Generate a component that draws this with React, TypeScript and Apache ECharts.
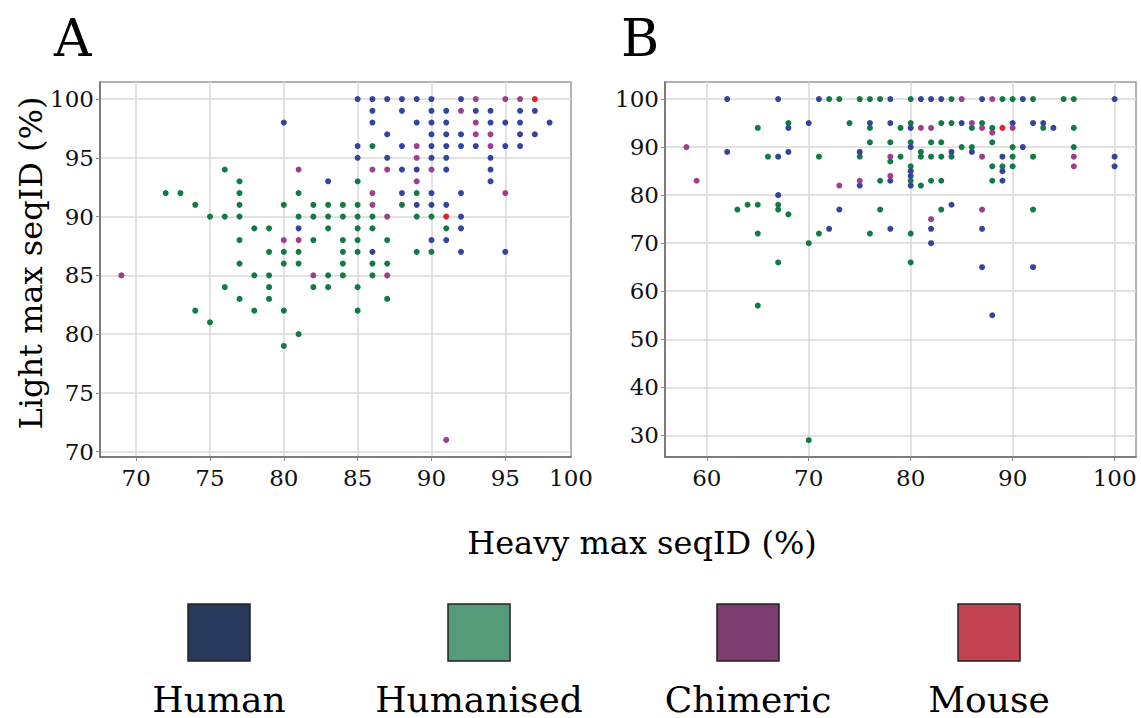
import React, { useEffect, useRef } from 'react';
import * as echarts from 'echarts';

// ---------- Data ----------
const categories = ['Human', 'Humanised', 'Chimeric', 'Mouse'];
const dotColors = ['#3243a0', '#127a46', '#9c3f8c', '#e5222b'];
const legendColors = ['#27395b', '#559a79', '#7b3c6f', '#c44352'];

const xTicksA = [70, 75, 80, 85, 90, 95, 100];
const yTicksA = [70, 75, 80, 85, 90, 95, 100];
const xTicksB = [60, 70, 80, 90, 100];
const yTicksB = [30, 40, 50, 60, 70, 80, 90, 100];

// Panel A: [heavy, light]
const aHuman = [
  [80, 98], [83, 93], [81, 89],
  [85, 100], [86, 100], [87, 100], [88, 100], [89, 100], [90, 100], [92, 100],
  [86, 99], [88, 99], [90, 99], [91, 99], [93, 99], [94, 99], [96, 99], [97, 99],
  [86, 98], [89, 98], [90, 98], [91, 98], [94, 98], [95, 98], [96, 98], [98, 98],
  [87, 97], [90, 97], [91, 97], [92, 97], [96, 97], [97, 97],
  [85, 96], [88, 96], [90, 96], [91, 96], [92, 96], [93, 96], [95, 96], [96, 96],
  [85, 95], [87, 95], [90, 95], [91, 95], [94, 95],
  [88, 94], [89, 94], [91, 94], [94, 94],
  [94, 93],
  [88, 92], [90, 92], [92, 92],
  [89, 91], [90, 91], [91, 91],
  [92, 90], [92, 89], [90, 88], [91, 88], [86, 87], [92, 87], [95, 87],
];
const aHumanised = [
  [76, 94], [77, 93], [85, 93], [86, 96],
  [72, 92], [73, 92], [77, 92], [81, 92], [89, 92],
  [74, 91], [77, 91], [80, 91], [82, 91], [83, 91], [84, 91], [85, 91], [88, 91],
  [75, 90], [76, 90], [77, 90], [81, 90], [82, 90], [83, 90], [84, 90], [85, 90], [86, 90], [89, 90], [90, 90],
  [78, 89], [79, 89], [83, 89], [85, 89], [86, 89], [91, 89],
  [77, 88], [82, 88], [84, 88], [85, 88], [87, 88],
  [79, 87], [80, 87], [81, 87], [84, 87], [85, 87], [89, 87], [90, 87],
  [77, 86], [80, 86], [81, 86], [84, 86], [86, 86], [87, 86],
  [78, 85], [79, 85], [83, 85], [84, 85], [86, 85],
  [76, 84], [79, 84], [82, 84], [83, 84], [85, 84],
  [77, 83], [79, 83], [87, 83],
  [74, 82], [78, 82], [80, 82], [85, 82],
  [75, 81], [81, 80], [80, 79],
];
const aChimeric = [
  [81, 94], [80, 88], [81, 88], [69, 85], [82, 85], [87, 85], [91, 71],
  [93, 100], [95, 100], [96, 100], [92, 99], [93, 98], [93, 97], [94, 97],
  [89, 96], [94, 96], [89, 95], [86, 94], [87, 94], [90, 94], [89, 93],
  [86, 92], [95, 92], [86, 91], [87, 90],
];
const aMouse = [[97, 100], [91, 90]];

// Panel B: [heavy, light]
const bHuman = [
  [62, 100], [62, 89], [67, 100], [67, 88], [67, 80], [68, 94], [68, 89], [70, 95],
  [71, 100], [72, 73], [73, 77], [75, 89], [75, 82], [76, 95],
  [78, 100], [81, 100], [82, 100], [83, 100], [87, 100], [91, 100], [100, 100],
  [78, 95], [85, 95], [90, 95], [92, 95], [93, 95],
  [80, 94], [94, 94], [80, 90], [91, 90], [84, 89], [86, 89],
  [89, 88], [100, 88], [100, 86], [80, 85], [89, 85], [80, 84],
  [78, 83], [89, 83], [80, 82], [84, 78],
  [78, 73], [82, 73], [87, 73], [82, 70], [87, 65], [92, 65], [88, 55],
];
const bHumanised = [
  [63, 77], [64, 78], [65, 78], [65, 94], [65, 72], [65, 57], [66, 88], [67, 78],
  [67, 77], [67, 66], [68, 95], [68, 76], [70, 70], [70, 29], [71, 88], [71, 72],
  [72, 100], [73, 100], [74, 95], [75, 100], [75, 88],
  [76, 100], [77, 100], [80, 100], [84, 100], [89, 100], [90, 100], [92, 100], [95, 100], [96, 100],
  [80, 95], [83, 95], [84, 95], [87, 95],
  [76, 94], [79, 94], [86, 94], [88, 94], [93, 94], [96, 94],
  [76, 91], [78, 91], [80, 91], [82, 91], [83, 91], [88, 91],
  [85, 90], [86, 90], [90, 90], [96, 90],
  [81, 89],
  [79, 88], [81, 88], [82, 88], [83, 88], [84, 88], [90, 88], [92, 88],
  [78, 87],
  [80, 86], [88, 86], [89, 86], [90, 86],
  [77, 83], [80, 83], [82, 83], [83, 83], [88, 83],
  [81, 82],
  [77, 77], [83, 77], [92, 77],
  [76, 72], [80, 72], [80, 66],
];
const bChimeric = [
  [58, 90], [59, 83], [73, 82], [75, 83], [85, 100], [88, 100], [86, 95],
  [81, 94], [82, 94], [87, 94], [90, 94], [88, 93], [78, 88], [87, 88],
  [96, 88], [96, 86], [78, 84], [87, 77], [82, 75],
];
const bMouse = [[89, 94]];

// ---------- Layout / style ----------
const SERIF = '"DejaVu Serif", serif';
const TICK_FONT = 23;
const xRangeA = [67.55, 99.45];
const yRangeA = [69.55, 101.45];
const xRangeB = [55.9, 102.1];
const yRangeB = [25.5, 103.55];

function makeAxis(kind: 'x' | 'y', gridIndex: number, range: number[], ticks: number[]) {
  const inRange = ticks.filter((t) => t >= range[0] && t <= range[1]);
  // labels: clamp any tick beyond the extent to the extent edge (the reference shows "100" at the frame)
  const labelVals = ticks.map((t) => Math.min(Math.max(t, range[0]), range[1]));
  const step = ticks[1] - ticks[0];
  return {
    type: 'value',
    gridIndex,
    min: range[0],
    max: range[1],
    axisLine: { show: true, onZero: false, lineStyle: { color: '#6a6a6a', width: 1.5 } },
    axisTick: {
      show: true,
      inside: false,
      length: 4,
      lineStyle: { color: '#8a8a8a', width: 1 },
      customValues: inRange,
    },
    axisLabel: {
      customValues: labelVals,
      formatter: (v: number) => String(Math.round(v / step) * step),
      color: '#111',
      fontFamily: SERIF,
      fontSize: TICK_FONT,
      margin: kind === 'x' ? 9 : 6,
    },
    splitLine: { show: true, lineStyle: { color: '#d8d8d8', width: 1.5 } },
  };
}

function scatterSeries(data: number[][], idx: number, axisIdx: number) {
  return {
    type: 'scatter',
    name: categories[idx],
    xAxisIndex: axisIdx,
    yAxisIndex: axisIdx,
    data,
    symbol: 'circle',
    symbolSize: 6,
    itemStyle: { color: dotColors[idx], opacity: 1 },
    silent: true,
  };
}

const legendX = [188, 448, 717, 958];

function buildOption() {
  const graphics: any[] = [
    { type: 'text', x: 54, y: 38, style: { text: 'A', font: `52px ${SERIF}`, fill: '#000', textAlign: 'left', textVerticalAlign: 'middle' } },
    { type: 'text', x: 621, y: 38, style: { text: 'B', font: `52px ${SERIF}`, fill: '#000', textAlign: 'left', textVerticalAlign: 'middle' } },
    {
      type: 'text', x: 31, y: 263, rotation: Math.PI / 2,
      style: { text: 'Light max seqID (%)', font: `32px ${SERIF}`, fill: '#000', textAlign: 'center', textVerticalAlign: 'middle' },
    },
    {
      type: 'text', x: 642, y: 543,
      style: { text: 'Heavy max seqID (%)', font: `32px ${SERIF}`, fill: '#000', textAlign: 'center', textVerticalAlign: 'middle' },
    },
  ];
  categories.forEach((c, i) => {
    graphics.push({
      type: 'rect',
      shape: { x: legendX[i], y: 604, width: 62, height: 57 },
      style: { fill: legendColors[i], stroke: '#222', lineWidth: 1.5 },
    });
    graphics.push({
      type: 'text', x: legendX[i] + 31, y: 699,
      style: { text: c, font: `36px ${SERIF}`, fill: '#000', textAlign: 'center', textVerticalAlign: 'middle' },
    });
  });

  return {
    animation: false,
    backgroundColor: '#fff',
    grid: [
      { left: 100, top: 82, width: 471, height: 375, show: true, borderColor: '#9a9a9a', borderWidth: 1.5, outerBoundsMode: 'none', containLabel: false },
      { left: 665, top: 82, width: 471, height: 375, show: true, borderColor: '#9a9a9a', borderWidth: 1.5, outerBoundsMode: 'none', containLabel: false },
    ],
    xAxis: [makeAxis('x', 0, xRangeA, xTicksA), makeAxis('x', 1, xRangeB, xTicksB)],
    yAxis: [makeAxis('y', 0, yRangeA, yTicksA), makeAxis('y', 1, yRangeB, yTicksB)],
    series: [
      scatterSeries(aHumanised, 1, 0),
      scatterSeries(aHuman, 0, 0),
      scatterSeries(aChimeric, 2, 0),
      scatterSeries(aMouse, 3, 0),
      scatterSeries(bHumanised, 1, 1),
      scatterSeries(bHuman, 0, 1),
      scatterSeries(bChimeric, 2, 1),
      scatterSeries(bMouse, 3, 1),
    ],
    graphic: graphics,
  };
}

export default function App() {
  const ref = useRef<HTMLDivElement>(null);
  useEffect(() => {
    if (!ref.current) return;
    const chart = echarts.init(ref.current, null, { renderer: 'svg' });
    chart.setOption(buildOption() as any);
    return () => chart.dispose();
  }, []);
  return (
    <div
      ref={ref}
      style={{ position: 'absolute', left: 0, top: 0, width: 1141, height: 718, background: '#fff' }}
    />
  );
}
